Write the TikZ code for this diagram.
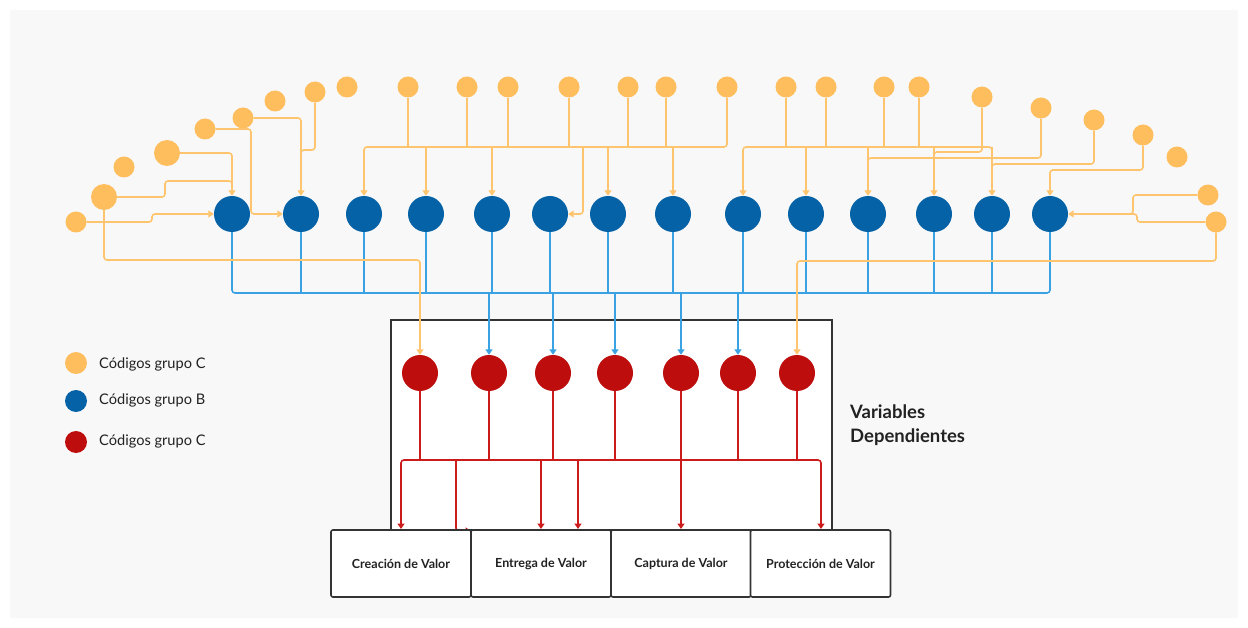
\documentclass[tikz,border=0pt]{standalone}
\usepackage{fontspec}
\setmainfont{Lato}
\usetikzlibrary{arrows.meta}

\definecolor{orng}{HTML}{FFBE5E}
\definecolor{orngline}{HTML}{FFC46E}
\definecolor{bluec}{HTML}{0562A6}
\definecolor{blueline}{HTML}{3AA2E2}
\definecolor{redc}{HTML}{BD0D0D}
\definecolor{redline}{HTML}{CC1B1B}
\definecolor{boxline}{HTML}{333333}
\definecolor{bgc}{HTML}{F8F8F8}
\definecolor{txt}{HTML}{222222}

\pgfdeclarelayer{back}
\pgfdeclarelayer{edges}
\pgfsetlayers{back,edges,main}

\tikzset{
  dot/.style={circle, inner sep=0pt, draw=none},
  onode/.style={dot, fill=orng},
  bnode/.style={dot, fill=bluec, minimum size=36pt},
  rnode/.style={dot, fill=redc, minimum size=36pt},
  tip/.style={-{Triangle[length=5.5pt,width=7pt]}},
  oline/.style={draw=orngline, line width=1.6pt, rounded corners=3pt},
  bline/.style={draw=blueline, line width=1.6pt, rounded corners=3pt},
  rline/.style={draw=redline, line width=1.6pt, rounded corners=3pt},
  valbox/.style={draw=boxline, line width=1.6pt, fill=white, rounded corners=2pt,
    minimum width=140pt, minimum height=67pt, inner sep=0pt,
    font=\bfseries\fontsize{12.5}{14}\selectfont, text=txt},
  bigbox/.style={draw=boxline, line width=1.6pt, fill=white, inner sep=0pt,
    minimum width=441pt, minimum height=210pt},
  legtext/.style={anchor=west, inner sep=0pt, font=\fontsize{14.6}{16}\selectfont, text=txt},
}

\begin{document}
\begin{tikzpicture}[x=1pt,y=-1pt]
\useasboundingbox (0,0) rectangle (1248,628);

% canvas
\begin{pgfonlayer}{back}
  \fill[white] (0,0) rectangle (1248,628);
  \fill[bgc] (10,10) rectangle (1238,618);
  \node[bigbox] (vd) at (611.5,425) {};
\end{pgfonlayer}

% group C codes (top arc)
\foreach \i/\x/\y/\s in {
  1/76/222/21, 2/104/197/26, 3/124/167/21, 4/167/153/26, 5/205/129/21,
  6/243/118/21, 7/275/101/21, 8/315/92/21, 9/347/87/21, 10/408/87/21,
  11/467/87/21, 12/508/87/21, 13/569/87/21, 14/628/87/21, 15/666/87/21,
  16/727/87/21, 17/786/87/21, 18/826/87/21, 19/884/87/21, 20/919/87/21,
  21/982/97/21, 22/1041/108/21, 23/1094/120/21, 24/1143/135/21,
  25/1177/157/21, 26/1208/195/21, 27/1216/222/21}
  \node[onode, minimum size=\s pt] (o\i) at (\x,\y) {};

% group B codes
\foreach \i/\x in {1/232, 2/301, 3/364, 4/426, 5/492, 6/550, 7/608,
  8/673, 9/743, 10/806, 11/868, 12/934, 13/992, 14/1050}
  \node[bnode] (b\i) at (\x,214) {};

% dependent variables
\foreach \i/\x in {1/420, 2/489, 3/553, 4/615, 5/681, 6/738, 7/797}
  \node[rnode] (r\i) at (\x,373) {};

% value boxes
\node[valbox] (cre) at (401,563.5) {Creación de Valor};
\node[valbox] (ent) at (541,563.5) {Entrega de Valor};
\node[valbox] (cap) at (681,563.5) {Captura de Valor};
\node[valbox] (pro) at (820.5,563.5) {Protección de Valor};

\node[anchor=west, align=left, inner sep=0pt, text=txt,
  font=\bfseries\fontsize{18.5}{24}\selectfont] (vdlabel) at (850,425)
  {Variables\\Dependientes};

% legend
\node[onode, minimum size=22pt] (lc1) at (76,363) {};
\node[dot, fill=bluec, minimum size=22pt] (lb) at (76,401) {};
\node[dot, fill=redc, minimum size=22pt] (lc2) at (76,442) {};
\node[legtext] (tc1) at (99,364) {Códigos grupo C};
\node[legtext] (tb) at (99,400) {Códigos grupo B};
\node[legtext] (tc2) at (99,441) {Códigos grupo C};

\begin{pgfonlayer}{edges}
  % red links into the value boxes
  \foreach \i/\x in {1/420, 2/489, 3/553, 4/615, 5/681, 6/738, 7/797}
    \draw[rline] (r\i.south) -- (\x,460);
  \draw[rline, {Triangle[length=5.5pt,width=7pt]}-{Triangle[length=5.5pt,width=7pt]}]
    (401,529) -- (401,460) -- (821,460) -- (821,529);
  \draw[rline, tip] (456,460) -- (456,531) -- (471,531);
  \foreach \x in {541, 578, 681}
    \draw[rline, tip] (\x,460) -- (\x,529);

  % blue collector
  \draw[bline] (b1.south) -- (232,293) -- (1050,293) -- (b14.south);
  \foreach \i/\x in {2/301, 3/364, 4/426, 5/492, 6/550, 7/608, 8/673,
    9/743, 10/806, 11/868, 12/934, 13/992}
    \draw[bline] (b\i.south) -- (\x,293);
  \foreach \i/\x in {2/489, 3/553, 4/615, 5/681, 6/738}
    \draw[bline, tip] (\x,293) -- (r\i.north);

  % left group of C links
  \draw[oline, tip] (o1.east) -- (152,222) -- (152,214) -- (b1.west);
  \draw[oline] (o2.east) -- (165,197) -- (165,181) -- (232,181) -- (232,190);
  \draw[oline, tip] (o4.east) -| (b1.north);
  \draw[oline, tip] (o2.south) |- (420,260) -- (r1.north);
  \draw[oline, tip] (o5.east) -| (251,214) -- (b2.west);
  \draw[oline, tip] (o6.east) -| (b2.north);
  \draw[oline] (o8.south) |- (301,150) -- (301,160);

  % left top bus
  \draw[oline] (364,160) -- (364,147) -- (727,147) -- (o16.south);
  \foreach \i/\x in {10/408, 11/467, 12/508, 13/569, 14/628, 15/666}
    \draw[oline] (o\i.south) -- (\x,147);
  \draw[oline, tip] (364,150) -- (b3.north);
  \foreach \i/\x in {4/426, 5/492, 7/608, 8/673}
    \draw[oline, tip] (\x,147) -- (b\i.north);
  \draw[oline, tip] (583,147) |- (b6.east);

  % right top bus
  \draw[oline] (743,160) -- (743,147) -- (992,147) -- (992,160);
  \foreach \i/\x in {17/786, 18/826, 19/884, 20/919}
    \draw[oline] (o\i.south) -- (\x,147);
  \draw[oline, tip] (743,155) -- (b9.north);
  \foreach \i/\x in {10/806, 11/868, 12/934, 13/992}
    \draw[oline, tip] (\x,147) -- (b\i.north);
  \draw[oline] (o21.south) |- (934,152) -- (934,162);
  \draw[oline] (o22.south) |- (868,158) -- (868,168);
  \draw[oline] (o23.south) |- (992,164) -- (992,174);
  \draw[oline, tip] (o24.south) |- (1050,170) -- (b14.north);
  \draw[oline, tip] (o26.west) -| (1133,214) -- (b14.east);
  \draw[oline] (o27.west) -- (1137,222) -- (1137,214) -- (1128,214);
  \draw[oline, tip] (o27.south) |- (797,261) -- (r7.north);
\end{pgfonlayer}
\end{tikzpicture}
\end{document}
